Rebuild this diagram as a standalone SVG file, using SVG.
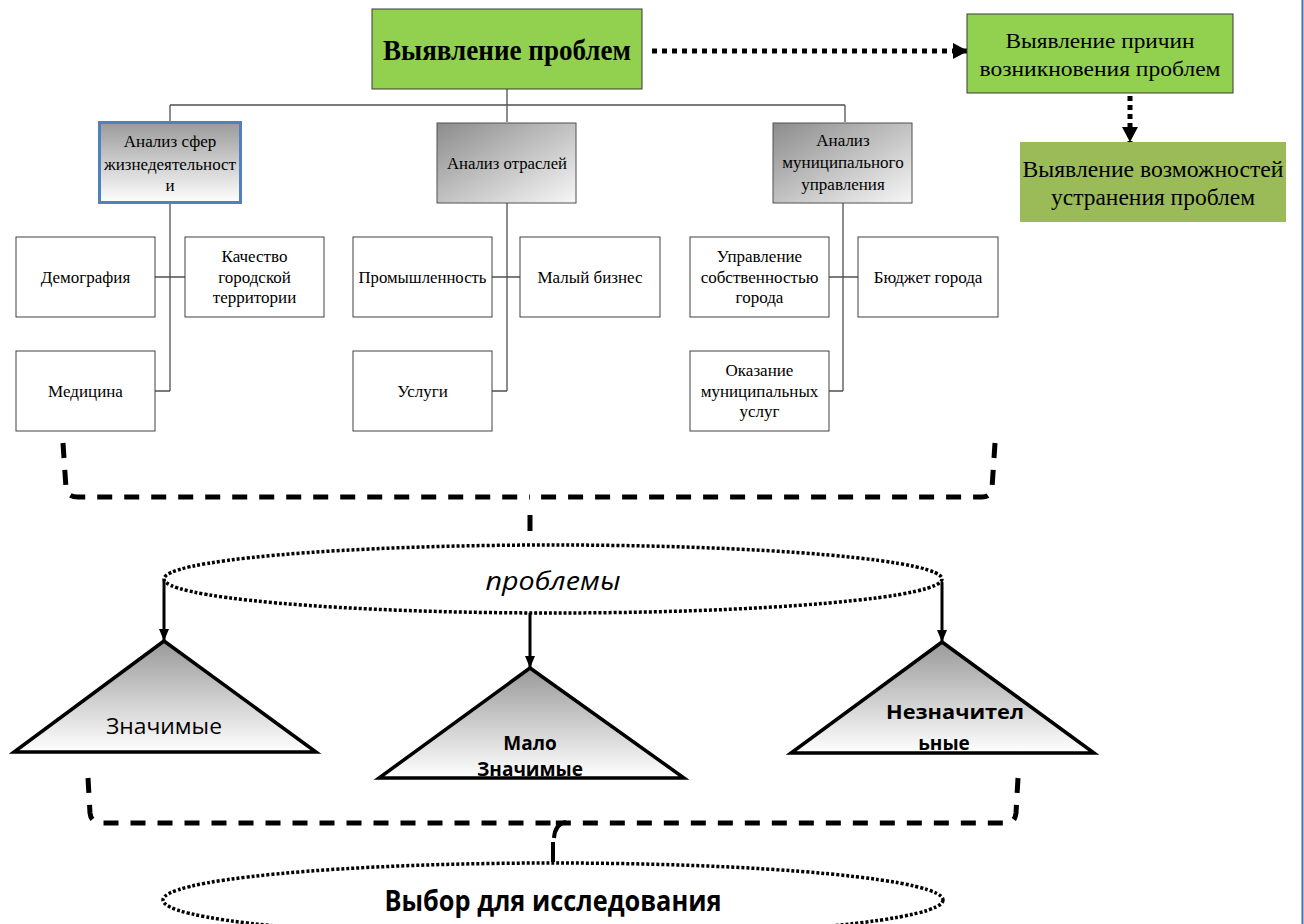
<svg xmlns="http://www.w3.org/2000/svg" width="1304" height="924" viewBox="0 0 1304 924">
<defs>
<linearGradient id="gA" x1="0" y1="0" x2="0" y2="1"><stop offset="0" stop-color="#9a9a9a"/><stop offset="1" stop-color="#ffffff"/></linearGradient>
<linearGradient id="gB" x1="0" y1="0" x2="1" y2="1"><stop offset="0" stop-color="#8c8c8c"/><stop offset="1" stop-color="#f7f7f7"/></linearGradient>
<linearGradient id="gT" x1="0" y1="0" x2="0" y2="1"><stop offset="0" stop-color="#999999"/><stop offset="1" stop-color="#ffffff"/></linearGradient>
<marker id="ah" markerUnits="userSpaceOnUse" markerWidth="16" markerHeight="16" viewBox="0 0 16 16" refX="15" refY="8" orient="auto"><path d="M0 0 L15 8 L0 16 Z" fill="#000"/></marker>
<marker id="as" markerUnits="userSpaceOnUse" markerWidth="12" markerHeight="10" viewBox="0 0 12 10" refX="12" refY="5" orient="auto"><path d="M0 0 L12 5 L0 10 Z" fill="#000"/></marker>
</defs>
<style>
.ser{font-family:"Liberation Serif","Times New Roman",serif;fill:#000;text-anchor:middle}
.san{font-family:"Open Sans","Liberation Sans",sans-serif;fill:#000;text-anchor:middle}
.box{fill:#fff;stroke:#404040;stroke-width:1}
.tree{fill:none;stroke:#505050;stroke-width:1.3}
.dash{fill:none;stroke:#000;stroke-width:5;stroke-dasharray:15 12}
.dot{fill:none;stroke:#000;stroke-width:3.5;stroke-dasharray:3 2}
.arr{stroke:#000;stroke-width:3;marker-end:url(#as)}
.tri{fill:url(#gT);stroke:#000;stroke-width:3.5;stroke-linejoin:miter}
</style>
<rect width="1304" height="924" fill="#fff"/>
<line x1="1302.5" y1="0" x2="1302.5" y2="924" stroke="#3e72b5" stroke-width="2"/>

<g id="connectors">
<path class="tree" d="M507 89 V105 M170 105 H845 M170 105 V122 M507 105 V122 M845 105 V122"/>
<path class="tree" d="M170 203 V391 M155 277 H185 M155 391 H170"/>
<path class="tree" d="M507 203 V391 M492 277 H520 M492 391 H507"/>
<path class="tree" d="M843 203 V391 M829 277 H858 M829 391 H843"/>
<line x1="652" y1="51" x2="968" y2="51" stroke="#000" stroke-width="5" stroke-dasharray="5 5" marker-end="url(#ah)"/>
<line x1="1130" y1="96" x2="1130" y2="142" stroke="#000" stroke-width="5" stroke-dasharray="5 4" marker-end="url(#ah)"/>
<path class="dash" d="M63 443 L66 488 Q67 497 78 497 L530 497"/>
<path class="dash" d="M995 443 L992 488 Q991 497 982 497 L530 497"/>
<line x1="530" y1="515" x2="530" y2="531" stroke="#000" stroke-width="5"/>
<line class="arr" x1="164" y1="580" x2="164" y2="641"/>
<line class="arr" x1="530" y1="613" x2="530" y2="668"/>
<line class="arr" x1="942" y1="582" x2="942" y2="642"/>
<path class="dash" d="M88 778 L90 813 Q91 823 102 823 L553 823"/>
<path class="dash" d="M1018 778 L1016 813 Q1015 823 1006 823 L553 823"/>
<path d="M566 822 Q555 824 554 838" fill="none" stroke="#000" stroke-width="4"/>
<line x1="553" y1="842" x2="553" y2="862" stroke="#000" stroke-width="4"/>
</g>

<g id="n-top">
<rect x="372" y="9" width="270" height="80" fill="#92d050" stroke="#3a3a3a" stroke-width="1"/>
<text class="ser" x="507" y="60" font-size="30" font-weight="bold" textLength="248" lengthAdjust="spacingAndGlyphs">Выявление проблем</text>
</g>
<g id="n-causes">
<rect x="967" y="14" width="266" height="79" fill="#92d050" stroke="#3a3a3a" stroke-width="1"/>
<text class="ser" x="1100" y="48" font-size="22" textLength="189" lengthAdjust="spacingAndGlyphs">Выявление причин</text>
<text class="ser" x="1100" y="76" font-size="22" textLength="241" lengthAdjust="spacingAndGlyphs">возникновения проблем</text>
</g>
<g id="n-possib">
<rect x="1020" y="142" width="266" height="80" fill="#9bbb59"/>
<text class="ser" x="1153" y="177" font-size="24" textLength="261" lengthAdjust="spacingAndGlyphs">Выявление возможностей</text>
<text class="ser" x="1153" y="205" font-size="24" textLength="204" lengthAdjust="spacingAndGlyphs">устранения  проблем</text>
</g>

<g id="n-a">
<rect x="99.5" y="122.5" width="141" height="80" fill="url(#gA)" stroke="#4f81bd" stroke-width="3"/>
<text class="ser" x="170" y="147" font-size="17">Анализ сфер</text>
<text class="ser" x="170" y="170" font-size="17" textLength="132" lengthAdjust="spacingAndGlyphs">жизнедеятельност</text>
<text class="ser" x="170" y="191" font-size="17">и</text>
</g>
<g id="n-b">
<rect x="437" y="123" width="139" height="80" fill="url(#gB)" stroke="#505050" stroke-width="1"/>
<text class="ser" x="507" y="169" font-size="17" textLength="120" lengthAdjust="spacingAndGlyphs">Анализ  отраслей</text>
</g>
<g id="n-c">
<rect x="773" y="123" width="139" height="80" fill="url(#gB)" stroke="#505050" stroke-width="1"/>
<text class="ser" x="843" y="146" font-size="17">Анализ</text>
<text class="ser" x="843" y="168" font-size="17">муниципального</text>
<text class="ser" x="843" y="190" font-size="17">управления</text>
</g>

<g id="n-demo"><rect class="box" x="16" y="237" width="139" height="80"/><text class="ser" x="85.5" y="283" font-size="17">Демография</text></g>
<g id="n-kach"><rect class="box" x="185" y="237" width="139" height="80"/>
<text class="ser" x="254.5" y="262" font-size="17">Качество</text><text class="ser" x="254.5" y="283" font-size="17">городской</text><text class="ser" x="254.5" y="303" font-size="17">территории</text></g>
<g id="n-med"><rect class="box" x="16" y="351" width="139" height="80"/><text class="ser" x="85.5" y="397" font-size="17">Медицина</text></g>
<g id="n-prom"><rect class="box" x="353" y="237" width="139" height="80"/><text class="ser" x="422.5" y="283" font-size="17" textLength="128" lengthAdjust="spacingAndGlyphs">Промышленность</text></g>
<g id="n-mb"><rect class="box" x="520" y="237" width="140" height="80"/><text class="ser" x="590" y="283" font-size="17">Малый  бизнес</text></g>
<g id="n-usl"><rect class="box" x="353" y="351" width="139" height="80"/><text class="ser" x="422.5" y="397" font-size="17">Услуги</text></g>
<g id="n-upr"><rect class="box" x="690" y="237" width="139" height="80"/>
<text class="ser" x="759.5" y="262" font-size="17">Управление</text><text class="ser" x="759.5" y="283" font-size="17">собственностью</text><text class="ser" x="759.5" y="303" font-size="17">города</text></g>
<g id="n-bud"><rect class="box" x="858" y="237" width="140" height="80"/><text class="ser" x="928" y="283" font-size="17">Бюджет города</text></g>
<g id="n-okaz"><rect class="box" x="690" y="351" width="139" height="80"/>
<text class="ser" x="759.5" y="376" font-size="17">Оказание</text><text class="ser" x="759.5" y="397" font-size="17">муниципальных</text><text class="ser" x="759.5" y="417" font-size="17">услуг</text></g>

<g id="n-problems">
<ellipse class="dot" cx="553" cy="579" rx="389" ry="34"/>
<text class="san" x="553" y="590" font-size="26" font-style="italic" textLength="135" lengthAdjust="spacingAndGlyphs">проблемы</text>
</g>
<g id="n-t1">
<polygon class="tri" points="164,641 14,752 316,752"/>
<text class="san" x="164" y="734" font-size="22" textLength="116" lengthAdjust="spacingAndGlyphs">Значимые</text>
</g>
<g id="n-t2">
<polygon class="tri" points="530,668 379,778 684,778"/>
<text class="san" x="530" y="750" font-size="19" font-weight="bold">Мало</text>
<text class="san" x="530" y="776" font-size="19" font-weight="bold" textLength="106" lengthAdjust="spacingAndGlyphs">Значимые</text>
</g>
<g id="n-t3">
<polygon class="tri" points="942,642 791,753 1094,753"/>
<text class="san" x="955" y="719" font-size="19" font-weight="bold" textLength="138" lengthAdjust="spacingAndGlyphs">Незначител</text>
<text class="san" x="944" y="750" font-size="19" font-weight="bold">ьные</text>
</g>
<g id="n-select">
<ellipse class="dot" cx="553" cy="900" rx="390" ry="37"/>
<text class="san" x="553" y="911" font-size="28" font-weight="bold" textLength="337" lengthAdjust="spacingAndGlyphs">Выбор для исследования</text>
</g>
</svg>
